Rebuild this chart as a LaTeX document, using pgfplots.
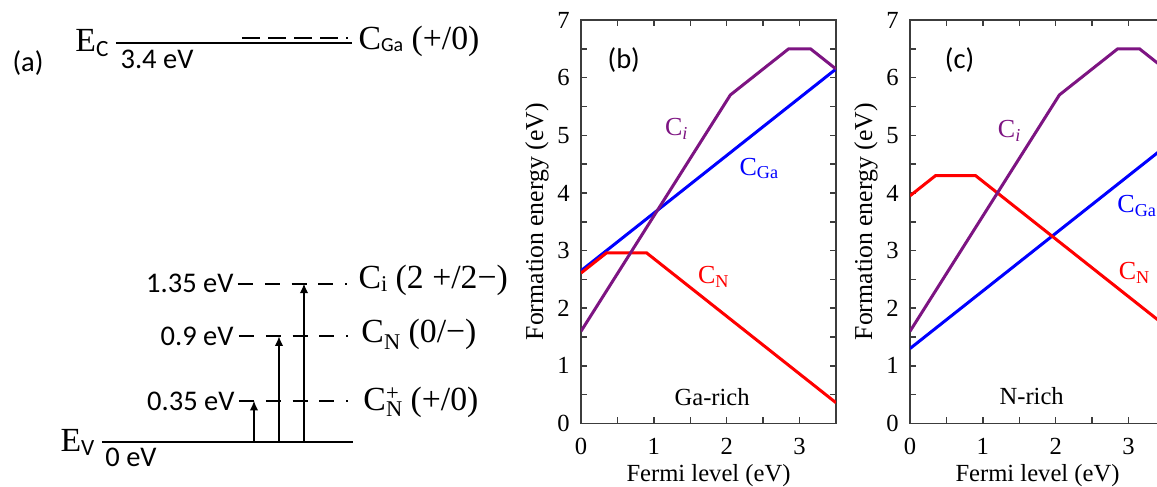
\documentclass[border=0pt]{standalone}
\usepackage{fontspec}
\setmainfont{Liberation Serif}
\setsansfont{Carlito}
\usepackage{pgfplots}
\usepackage{pgfplotstable}
\pgfplotsset{compat=1.18}
\usetikzlibrary{arrows.meta}
\definecolor{cpurple}{RGB}{125,20,130}
\definecolor{cblue}{RGB}{0,0,255}
\definecolor{cred}{RGB}{255,0,0}
\definecolor{framegray}{RGB}{60,60,60}

\newcommand{\serifA}{\rmfamily\fontsize{13.5}{16}\selectfont}
\newcommand{\sansA}{\sffamily\fontsize{11.4}{13.5}\selectfont}
\newcommand{\plotfont}{\rmfamily\fontsize{9.84}{11.5}\selectfont}
\newcommand{\ylabfont}{\rmfamily\fontsize{10.3}{12}\selectfont}
\newcommand{\curvefont}{\rmfamily\fontsize{10.4}{12.5}\selectfont}
\newcommand{\subS}[2]{\raisebox{#1}{\fontsize{9}{10}\selectfont #2}}

\pgfplotsset{
 fplot/.style={
  scale only axis, width=102pt, height=161.4pt,
  xmin=0, xmax=3.5, ymin=0, ymax=7,
  xtick={0,1,2,3}, minor xtick={0.5,1.5,2.5,3.5},
  ytick={0,1,...,7}, minor ytick={0.5,1.5,...,6.5},
  tick align=inside, tick pos=both,
  major tick length=2.4pt, minor tick length=2.4pt,
  axis line style={framegray, line width=0.6pt},
  every tick/.style={framegray, line width=0.6pt},
  /pgf/number format/assume math mode=true,
  tick label style={font=\plotfont},
  xticklabel style={yshift=-2.5pt},
  yticklabel style={xshift=-1pt},
  xlabel={Fermi level (eV)}, ylabel={Formation energy (eV)},
  every axis x label/.style={at={(axis description cs:0.5,-0.129)}, anchor=center, font=\plotfont},
  every axis y label/.style={at={(axis description cs:-0.1725,0.5)}, anchor=center, rotate=90, font=\ylabfont},
 },
 fline/.style={line width=1.2pt},
}

% Panel (b): Ga-rich
\pgfplotstableread{
x y
0 2.65
3.5 6.15
}\bCGa
\pgfplotstableread{
x y
0 2.61
0.35 2.96
0.9 2.96
3.5 0.36
}\bCN
\pgfplotstableread{
x y
0 1.6
2.05 5.7
2.85 6.5
3.15 6.5
3.5 6.15
}\bCi
% Panel (c): N-rich
\pgfplotstableread{
x y
0 1.3
3.5 4.8
}\cCGa
\pgfplotstableread{
x y
0 3.95
0.35 4.3
0.9 4.3
3.5 1.7
}\cCN
\pgfplotstableread{
x y
0 1.6
2.05 5.7
2.85 6.5
3.15 6.5
3.5 6.15
}\cCi

\begin{document}
\begin{tikzpicture}
\useasboundingbox (0pt,0pt) rectangle (462.8pt,194.8pt);

% ---------------- Panel (a): level diagram (y in eV) ----------------
\begin{axis}[at={(0pt,0pt)}, anchor=south west, scale only axis,
  width=200pt, height=194.8pt, xmin=0, xmax=500, ymin=-0.3836, ymax=3.768,
  hide axis, clip=false]
\addplot[black, line width=0.8pt] coordinates {(116,3.4) (352,3.4)};
\addplot[black, line width=1pt, dash pattern=on 7pt off 3.4pt] coordinates {(242,3.444) (348.5,3.444)};
\addplot[black, line width=0.6pt] coordinates {(102,0) (353,0)};
\addplot[black, line width=0.8pt, dash pattern=on 6pt off 4.7pt] coordinates {(238,1.35) (347.5,1.35)};
\addplot[black, line width=0.8pt, dash pattern=on 6pt off 4.7pt] coordinates {(239,0.9) (348.5,0.9)};
\addplot[black, line width=0.8pt, dash pattern=on 6pt off 4.7pt] coordinates {(239,0.35) (348.5,0.35)};
\addplot[black, line width=0.5pt, -{Latex[length=3.8pt,width=3.4pt]}] coordinates {(254,0) (254,0.35)};
\addplot[black, line width=0.5pt, -{Latex[length=3.8pt,width=3.4pt]}] coordinates {(279,0) (279,0.9)};
\addplot[black, line width=0.5pt, -{Latex[length=3.8pt,width=3.4pt]}] coordinates {(304,0) (304,1.35)};

\node[font=\sansA, inner sep=0pt] at (axis cs:28,3.231) {(a)};
\node[font=\serifA, anchor=base west, inner sep=0pt] at (axis cs:75,3.325)
  {E\raisebox{-1.7pt}{\sffamily\fontsize{9.3}{11}\selectfont C}};
\node[font=\sansA, inner sep=0pt] at (axis cs:157,3.265) {3.4 eV};
\node[font=\serifA, anchor=base west, inner sep=0pt] at (axis cs:358,3.342)
  {C\raisebox{-0.8pt}{\sffamily\fontsize{8}{10}\selectfont Ga} (+/0)};

\node[font=\serifA, anchor=base west, inner sep=0pt] at (axis cs:60,-0.083)
  {E\raisebox{-1.7pt}{\sffamily\fontsize{9.3}{11}\selectfont V}};
\node[font=\sansA, inner sep=0pt] at (axis cs:131,-0.128) {0 eV};

\node[font=\sansA, anchor=east, inner sep=0pt] at (axis cs:234,1.35) {1.35 eV};
\node[font=\sansA, anchor=east, inner sep=0pt] at (axis cs:234,0.9) {0.9 eV};
\node[font=\sansA, anchor=east, inner sep=0pt] at (axis cs:235,0.35) {0.35 eV};

\node[font=\serifA, anchor=base west, inner sep=0pt] at (axis cs:358,1.307)
  {C\subS{-1.3pt}{i} (2 +/2−)};
\node[font=\serifA, anchor=base west, inner sep=0pt] at (axis cs:361,0.845)
  {C\subS{-2.5pt}{N} (0/−)};
\node[font=\serifA, anchor=base west, inner sep=0pt] at (axis cs:363,0.27)
  {C\rlap{\subS{4pt}{+}}\subS{-2.5pt}{N} (+/0)};
\end{axis}

% ---------------- Panel (b) ----------------
\begin{axis}[fplot, at={(232.4pt,25.4pt)}, anchor=south west]
\addplot[fline, cblue] table {\bCGa};
\addplot[fline, cred] table {\bCN};
\addplot[fline, cpurple] table {\bCi};
\node[font=\curvefont, text=cpurple, anchor=base west, inner sep=0pt] at (axis cs:1.146,5.0) {C\textsubscript{\itshape i}};
\node[font=\curvefont, text=cblue, anchor=base west, inner sep=0pt] at (axis cs:2.17,4.31) {C\textsubscript{Ga}};
\node[font=\curvefont, text=cred, anchor=base west, inner sep=0pt] at (axis cs:1.60,2.43) {C\textsubscript{N}};
\node[font=\plotfont, anchor=base, inner sep=0pt] at (axis cs:1.80,0.31) {Ga-rich};
\node[font=\sansA, inner sep=0pt] at (axis cs:0.587,6.30) {(b)};
\end{axis}

% ---------------- Panel (c) ----------------
\begin{axis}[fplot, at={(364pt,25.4pt)}, anchor=south west]
\addplot[fline, cblue] table {\cCGa};
\addplot[fline, cred] table {\cCN};
\addplot[fline, cpurple] table {\cCi};
\node[font=\curvefont, text=cpurple, anchor=base west, inner sep=0pt] at (axis cs:1.20,4.96) {C\textsubscript{\itshape i}};
\node[font=\curvefont, text=cblue, anchor=base west, inner sep=0pt] at (axis cs:2.84,3.66) {C\textsubscript{Ga}};
\node[font=\curvefont, text=cred, anchor=base west, inner sep=0pt] at (axis cs:2.86,2.50) {C\textsubscript{N}};
\node[font=\plotfont, anchor=base, inner sep=0pt] at (axis cs:1.67,0.33) {N-rich};
\node[font=\sansA, inner sep=0pt] at (axis cs:0.68,6.31) {(c)};
\end{axis}
\end{tikzpicture}
\end{document}
